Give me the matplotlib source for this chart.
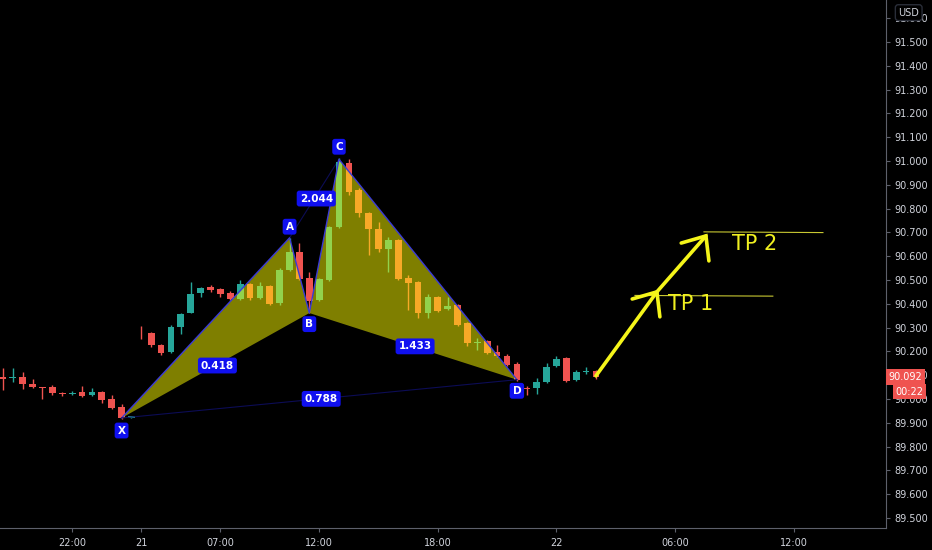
import matplotlib
matplotlib.use("Agg")
import matplotlib.pyplot as plt
from matplotlib.patches import Polygon

# velas de 30 min (indice, no hora real)
opens = [90.092, 90.088, 90.092, 90.063, 90.050, 90.050, 90.025, 90.023, 90.029, 90.017,
         90.029, 90.000, 89.966, 89.920, 90.275, 90.277, 90.227, 90.198, 90.303, 90.361,
         90.445, 90.471, 90.462, 90.445, 90.420, 90.483, 90.424, 90.475, 90.403, 90.542,
         90.618, 90.508, 90.416, 90.500, 90.723, 90.992, 90.878, 90.782, 90.714, 90.630,
         90.668, 90.508, 90.492, 90.361, 90.429, 90.378, 90.395, 90.319, 90.235, 90.244,
         90.198, 90.181, 90.147, 90.046, 90.046, 90.071, 90.139, 90.172, 90.080, 90.113,
         90.118]
highs = [90.130, 90.130, 90.113, 90.084, 90.050, 90.059, 90.029, 90.034, 90.055, 90.046,
         90.034, 90.017, 89.979, 89.929, 90.307, 90.282, 90.231, 90.311, 90.361, 90.492,
         90.471, 90.479, 90.466, 90.454, 90.500, 90.487, 90.492, 90.479, 90.550, 90.677,
         90.656, 90.534, 90.508, 90.727, 91.013, 91.008, 90.887, 90.786, 90.744, 90.681,
         90.672, 90.521, 90.496, 90.441, 90.433, 90.429, 90.399, 90.324, 90.256, 90.248,
         90.227, 90.189, 90.156, 90.055, 90.088, 90.151, 90.181, 90.177, 90.122, 90.134,
         90.122]
lows = [90.038, 90.071, 90.042, 90.046, 90.000, 90.017, 90.013, 90.017, 90.008, 90.013,
        89.983, 89.958, 89.916, 89.918, 90.252, 90.219, 90.185, 90.193, 90.273, 90.361,
        90.429, 90.450, 90.429, 90.416, 90.416, 90.416, 90.420, 90.395, 90.395, 90.538,
        90.500, 90.361, 90.412, 90.496, 90.719, 90.857, 90.765, 90.605, 90.618, 90.534,
        90.500, 90.374, 90.340, 90.340, 90.366, 90.374, 90.307, 90.223, 90.206, 90.189,
        90.177, 90.139, 90.076, 90.017, 90.021, 90.067, 90.134, 90.071, 90.076, 90.105,
        90.084]
closes = [90.084, 90.092, 90.063, 90.050, 90.046, 90.025, 90.019, 90.027, 90.013, 90.029,
          89.996, 89.962, 89.920, 89.927, 90.271, 90.227, 90.193, 90.303, 90.357, 90.441,
          90.466, 90.458, 90.441, 90.420, 90.483, 90.424, 90.475, 90.399, 90.542, 90.618,
          90.504, 90.412, 90.504, 90.723, 90.996, 90.870, 90.782, 90.714, 90.630, 90.668,
          90.504, 90.487, 90.361, 90.429, 90.370, 90.391, 90.311, 90.235, 90.240, 90.193,
          90.181, 90.143, 90.080, 90.042, 90.071, 90.134, 90.168, 90.076, 90.113, 90.118,
          90.092]

# patron XABCD
pat_names = ["X", "A", "B", "C", "D"]
pat_idx = [12, 29, 31, 34, 52]
pat_price = [89.920, 90.677, 90.361, 91.007, 90.081]
ratio_labels = {"XB": "0.418", "AC": "2.044", "BD": "1.433", "XD": "0.788"}

# objetivos
tp_names = ["TP 1", "TP 2"]
tp_levels = [90.435, 90.702]
tp_start = [63.95, 70.93]
tp_end = [77.9, 82.97]
tp_text_x = [67.3, 73.8]
tp_text_y = [90.399, 90.651]
arrow_x = [60.0, 66.17, 71.13]
arrow_y = [90.097, 90.450, 90.685]

# eje de tiempo
time_pos = [7, 14, 22, 32, 44, 56, 68, 80]
time_labels = ["22:00", "21", "07:00", "12:00", "18:00", "22", "06:00", "12:00"]
price_ticks = [89.5 + 0.1 * i for i in range(22)]

last_price = closes[-1]
countdown = "00:22"

UP = "#26a69a"
DOWN = "#ef5350"
TXT = "#d1d4dc"
LINE = "#5d606b"

fig = plt.figure(figsize=(9.32, 5.5), dpi=100, facecolor="black")
ax = fig.add_axes([0, 22 / 550, 886 / 932, 528 / 550])
ax.set_facecolor("black")

# velas
for i in range(len(opens)):
    o, h, l, c = opens[i], highs[i], lows[i], closes[i]
    col = UP if c >= o else DOWN
    ax.vlines(i, l, h, color=col, lw=1, zorder=2)
    bot = min(o, c)
    hgt = max(abs(c - o), 0.004)
    ax.bar(i, hgt, bottom=bot, width=0.68, color=col, edgecolor=col, lw=0, zorder=3)

# triangulos del patron
pts = list(zip(pat_idx, pat_price))
for tri in [(0, 1, 2), (2, 3, 4)]:
    poly = Polygon([pts[k] for k in tri], closed=True, facecolor="#ffff00",
                   alpha=0.5, edgecolor="none", zorder=4)
    ax.add_patch(poly)
ax.plot(pat_idx, pat_price, color="#3a3ad8", lw=1, zorder=5)
ax.plot([pat_idx[0], pat_idx[4]], [pat_price[0], pat_price[4]], color="#0c0c55", lw=0.8, zorder=5)
ax.plot([pat_idx[1], pat_idx[3]], [pat_price[1], pat_price[3]], color="#0c0c55", lw=0.8, zorder=1)

box = dict(boxstyle="round,pad=0.28,rounding_size=0.25", facecolor="#1010f0", edgecolor="none")
offsets = [-9, 8, -8, 9, -8]
for name, x, y, off in zip(pat_names, pat_idx, pat_price, offsets):
    ax.annotate(name, (x, y), xytext=(0, off), textcoords="offset points",
                ha="center", va="center", color="white", fontsize=7.5, fontweight="bold",
                bbox=box, zorder=7)

pairs = {"XB": (0, 2), "AC": (1, 3), "BD": (2, 4), "XD": (0, 4)}
for key, (a, b) in pairs.items():
    mx = (pat_idx[a] + pat_idx[b]) / 2
    my = (pat_price[a] + pat_price[b]) / 2
    ax.text(mx + 0.2, my, ratio_labels[key], ha="center", va="center", color="white",
            fontsize=7.5, fontweight="bold", bbox=box, zorder=7)

# flechas y niveles TP
for lvl, x0, x1 in zip(tp_levels, tp_start, tp_end):
    ax.plot([x0, x1], [lvl, lvl - 0.003], color="#c8c832", lw=0.8, zorder=5)
for name, tx, ty in zip(tp_names, tp_text_x, tp_text_y):
    ax.text(tx, ty, name, color="#f0f020", fontsize=15, ha="left", va="center", zorder=6)
ax.plot(arrow_x, arrow_y, color="#f5f51a", lw=2.6, solid_capstyle="round", zorder=6)
for k in (1, 2):
    hx, hy = arrow_x[k], arrow_y[k]
    ax.plot([hx - 2.5, hx, hx + 0.3], [hy - 0.03, hy, hy - 0.105],
            color="#f5f51a", lw=2.6, solid_capstyle="round", solid_joinstyle="miter", zorder=6)

ax.set_xlim(-0.3, 89.35)
ax.set_ylim(89.458, 91.676)

for s in ["top", "left"]:
    ax.spines[s].set_visible(False)
ax.spines["right"].set_color(LINE)
ax.spines["bottom"].set_color(LINE)
ax.yaxis.tick_right()
ax.set_yticks(price_ticks)
ax.set_yticklabels(["%.3f" % p for p in price_ticks])
ax.set_xticks(time_pos)
ax.set_xticklabels(time_labels)
ax.tick_params(axis="y", colors=LINE, labelcolor=TXT, labelsize=7, length=3, pad=3)
ax.tick_params(axis="x", colors=LINE, labelcolor=TXT, labelsize=7, length=3, pad=4)

# etiquetas del eje de precios
yl = ax.get_ylim()
frac = (last_price - yl[0]) / (yl[1] - yl[0])
fig.text(0.9535, 22 / 550 + frac * 528 / 550, "%.3f" % last_price, color="white", fontsize=7,
         ha="left", va="center",
         bbox=dict(boxstyle="square,pad=0.3", facecolor=DOWN, edgecolor="none"))
fig.text(0.9610, 22 / 550 + frac * 528 / 550 - 0.027, countdown, color="white", fontsize=7,
         ha="left", va="center",
         bbox=dict(boxstyle="square,pad=0.25", facecolor=DOWN, edgecolor="none"))
fig.text(0.975, 0.977, "USD", color=TXT, fontsize=7, ha="center", va="center",
         bbox=dict(boxstyle="round,pad=0.3", facecolor="black", edgecolor="#2a2e39"))

fig.savefig("out.png", dpi=100, facecolor="black")
